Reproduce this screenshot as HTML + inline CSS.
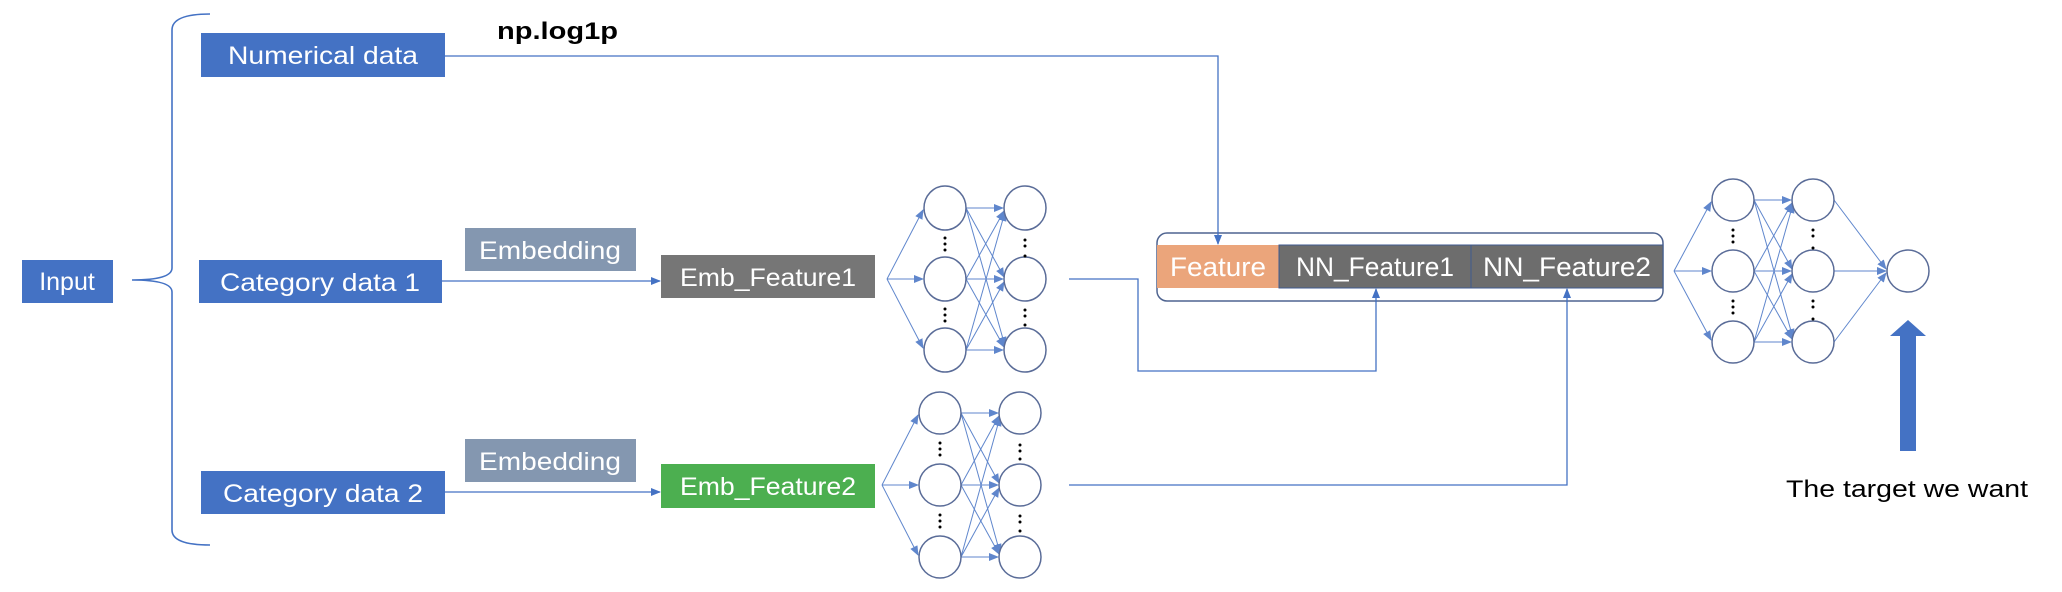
<!DOCTYPE html>
<html><head><meta charset="utf-8"><style>
html,body{margin:0;padding:0;background:#fff;}
svg{display:block;}
text{font-family:"Liberation Sans",sans-serif;}
</style></head><body>
<svg width="2062" height="592" viewBox="0 0 2062 592" xmlns="http://www.w3.org/2000/svg" style="position:absolute;left:0;top:0">
<defs>
<marker id="a" markerWidth="10" markerHeight="10" refX="9" refY="5" orient="auto" markerUnits="userSpaceOnUse"><path d="M0,1 L10,5 L0,9 Z" fill="#4472C4"/></marker>
</defs>
<g fill="none" stroke="#4472C4" stroke-width="1.3">
<path d="M210,14 Q172,14 172,30 L172,268 Q172,280 132,280 Q172,280 172,292 L172,530 Q172,545 210,545" stroke-width="1.6"/>
<path d="M445,56 L1218,56 L1218,243" marker-end="url(#a)"/>
<path d="M442,281 L660,281" marker-end="url(#a)"/>
<path d="M445,492 L660,492" marker-end="url(#a)"/>
<path d="M1069,279 L1138,279 L1138,371 L1376,371 L1376,300"/>
<path d="M1069,485 L1567,485 L1567,300"/>
</g>
<rect x="22" y="260" width="91" height="43" fill="#4472C4"/>
<text x="67" y="290" fill="#fff" font-size="25" text-anchor="middle">Input</text>
<rect x="201" y="33" width="244" height="44" fill="#4472C4"/>
<text x="323" y="64" fill="#fff" font-size="25" text-anchor="middle" textLength="190" lengthAdjust="spacingAndGlyphs">Numerical data</text>
<text x="497" y="39" fill="#000" font-size="24" font-weight="bold" textLength="121" lengthAdjust="spacingAndGlyphs">np.log1p</text>
<rect x="199" y="260" width="243" height="43" fill="#4472C4"/>
<text x="320" y="291" fill="#fff" font-size="25" text-anchor="middle" textLength="200" lengthAdjust="spacingAndGlyphs">Category data 1</text>
<rect x="201" y="471" width="244" height="43" fill="#4472C4"/>
<text x="323" y="502" fill="#fff" font-size="25" text-anchor="middle" textLength="200" lengthAdjust="spacingAndGlyphs">Category data 2</text>
<rect x="465" y="228" width="171" height="43" fill="#8497B0"/>
<text x="550" y="259" fill="#fff" font-size="25" text-anchor="middle" textLength="142" lengthAdjust="spacingAndGlyphs">Embedding</text>
<rect x="465" y="439" width="171" height="43" fill="#8497B0"/>
<text x="550" y="470" fill="#fff" font-size="25" text-anchor="middle" textLength="142" lengthAdjust="spacingAndGlyphs">Embedding</text>
<rect x="661" y="255" width="214" height="43" fill="#767676"/>
<text x="768" y="286" fill="#fff" font-size="25" text-anchor="middle" textLength="176" lengthAdjust="spacingAndGlyphs">Emb_Feature1</text>
<rect x="661" y="464" width="214" height="44" fill="#4CAF50"/>
<text x="768" y="495" fill="#fff" font-size="25" text-anchor="middle" textLength="176" lengthAdjust="spacingAndGlyphs">Emb_Feature2</text>
<rect x="1157" y="233" width="506" height="68" rx="10" fill="#fff" stroke="#4F6490" stroke-width="1.5"/>
<rect x="1157" y="245" width="122" height="43" fill="#EBA57B"/>
<rect x="1279" y="245" width="192" height="43" fill="#6D6D6D" stroke="#3F5A90" stroke-width="1"/>
<rect x="1471" y="245" width="192" height="43" fill="#6D6D6D" stroke="#3F5A90" stroke-width="1"/>
<text x="1218" y="276" fill="#fff" font-size="27" text-anchor="middle" textLength="96" lengthAdjust="spacingAndGlyphs">Feature</text>
<text x="1375" y="276" fill="#fff" font-size="27" text-anchor="middle" textLength="158" lengthAdjust="spacingAndGlyphs">NN_Feature1</text>
<text x="1567" y="276" fill="#fff" font-size="27" text-anchor="middle" textLength="168" lengthAdjust="spacingAndGlyphs">NN_Feature2</text>
<g fill="none" stroke="#4472C4" stroke-width="1.3">
<path d="M1218,232 L1218,244" marker-end="url(#a)"/>
<path d="M1376,302 L1376,289" marker-end="url(#a)"/>
<path d="M1567,302 L1567,289" marker-end="url(#a)"/>
</g>
<path d="M1900,451 L1900,336 L1890,336 L1908,320 L1926,336 L1916,336 L1916,451 Z" fill="#4472C4"/>
<text x="1786" y="497" fill="#000" font-size="24" textLength="242" lengthAdjust="spacingAndGlyphs">The target we want</text>
</svg>
<svg width="2062" height="592" xmlns="http://www.w3.org/2000/svg" style="position:absolute;left:0;top:0">
<defs><marker id="b" markerWidth="10" markerHeight="10" refX="9" refY="5" orient="auto" markerUnits="userSpaceOnUse"><path d="M0,1 L10,5 L0,9 Z" fill="#4472C4"/></marker></defs>
<g stroke="#4472C4" stroke-width="1" fill="none" opacity="0.85">
<path d="M887,279 L923,210" marker-end="url(#b)"/><path d="M887,279 L923,279" marker-end="url(#b)"/><path d="M887,279 L923,348" marker-end="url(#b)"/>
<path d="M966,208 L1003,208" marker-end="url(#b)"/><path d="M966,208 L1004,277" marker-end="url(#b)"/><path d="M966,208 L1005,346" marker-end="url(#b)"/>
<path d="M966,279 L1004,211" marker-end="url(#b)"/><path d="M966,279 L1003,279" marker-end="url(#b)"/><path d="M966,279 L1004,347" marker-end="url(#b)"/>
<path d="M966,350 L1005,212" marker-end="url(#b)"/><path d="M966,350 L1004,282" marker-end="url(#b)"/><path d="M966,350 L1003,350" marker-end="url(#b)"/>
<path d="M882,485 L918,415" marker-end="url(#b)"/><path d="M882,485 L918,485" marker-end="url(#b)"/><path d="M882,485 L918,555" marker-end="url(#b)"/>
<path d="M961,413 L998,413" marker-end="url(#b)"/><path d="M961,413 L999,483" marker-end="url(#b)"/><path d="M961,413 L1000,553" marker-end="url(#b)"/>
<path d="M961,485 L999,416" marker-end="url(#b)"/><path d="M961,485 L998,485" marker-end="url(#b)"/><path d="M961,485 L999,554" marker-end="url(#b)"/>
<path d="M961,557 L1000,417" marker-end="url(#b)"/><path d="M961,557 L999,488" marker-end="url(#b)"/><path d="M961,557 L998,557" marker-end="url(#b)"/>
<path d="M1674,271 L1711,202" marker-end="url(#b)"/><path d="M1674,271 L1711,271" marker-end="url(#b)"/><path d="M1674,271 L1711,340" marker-end="url(#b)"/>
<path d="M1754,200 L1791,200" marker-end="url(#b)"/><path d="M1754,200 L1792,269" marker-end="url(#b)"/><path d="M1754,200 L1793,338" marker-end="url(#b)"/>
<path d="M1754,271 L1792,203" marker-end="url(#b)"/><path d="M1754,271 L1791,271" marker-end="url(#b)"/><path d="M1754,271 L1792,339" marker-end="url(#b)"/>
<path d="M1754,342 L1793,204" marker-end="url(#b)"/><path d="M1754,342 L1792,274" marker-end="url(#b)"/><path d="M1754,342 L1791,342" marker-end="url(#b)"/>
<path d="M1834,200 L1886,269" marker-end="url(#b)"/><path d="M1834,271 L1886,271" marker-end="url(#b)"/><path d="M1834,342 L1886,273" marker-end="url(#b)"/>
</g>
<g fill="#fff" stroke="#5A6C98" stroke-width="1.5">
<ellipse cx="945" cy="208" rx="21" ry="22"/><ellipse cx="945" cy="279" rx="21" ry="22"/><ellipse cx="945" cy="350" rx="21" ry="22"/>
<ellipse cx="1025" cy="208" rx="21" ry="22"/><ellipse cx="1025" cy="279" rx="21" ry="22"/><ellipse cx="1025" cy="350" rx="21" ry="22"/>
<ellipse cx="940" cy="413" rx="21" ry="21"/><ellipse cx="940" cy="485" rx="21" ry="21"/><ellipse cx="940" cy="557" rx="21" ry="21"/>
<ellipse cx="1020" cy="413" rx="21" ry="21"/><ellipse cx="1020" cy="485" rx="21" ry="21"/><ellipse cx="1020" cy="557" rx="21" ry="21"/>
<ellipse cx="1733" cy="200" rx="21" ry="21"/><ellipse cx="1733" cy="271" rx="21" ry="21"/><ellipse cx="1733" cy="342" rx="21" ry="21"/>
<ellipse cx="1813" cy="200" rx="21" ry="21"/><ellipse cx="1813" cy="271" rx="21" ry="21"/><ellipse cx="1813" cy="342" rx="21" ry="21"/>
<ellipse cx="1908" cy="271" rx="21" ry="21"/>
</g>
<g fill="#000">
<circle cx="945" cy="238" r="1.5"/><circle cx="945" cy="244" r="1.5"/><circle cx="945" cy="250" r="1.5"/>
<circle cx="945" cy="309" r="1.5"/><circle cx="945" cy="315" r="1.5"/><circle cx="945" cy="321" r="1.5"/>
<circle cx="1025" cy="240" r="1.5"/><circle cx="1025" cy="246" r="1.5"/><circle cx="1025" cy="256" r="1.5"/>
<circle cx="1025" cy="310" r="1.5"/><circle cx="1025" cy="316" r="1.5"/><circle cx="1025" cy="325" r="1.5"/>
<circle cx="940" cy="443" r="1.5"/><circle cx="940" cy="449" r="1.5"/><circle cx="940" cy="455" r="1.5"/>
<circle cx="940" cy="515" r="1.5"/><circle cx="940" cy="521" r="1.5"/><circle cx="940" cy="527" r="1.5"/>
<circle cx="1020" cy="445" r="1.5"/><circle cx="1020" cy="451" r="1.5"/><circle cx="1020" cy="459" r="1.5"/>
<circle cx="1020" cy="516" r="1.5"/><circle cx="1020" cy="522" r="1.5"/><circle cx="1020" cy="531" r="1.5"/>
<circle cx="1733" cy="230" r="1.5"/><circle cx="1733" cy="236" r="1.5"/><circle cx="1733" cy="242" r="1.5"/>
<circle cx="1733" cy="301" r="1.5"/><circle cx="1733" cy="307" r="1.5"/><circle cx="1733" cy="313" r="1.5"/>
<circle cx="1813" cy="230" r="1.5"/><circle cx="1813" cy="236" r="1.5"/><circle cx="1813" cy="248" r="1.5"/>
<circle cx="1813" cy="301" r="1.5"/><circle cx="1813" cy="307" r="1.5"/><circle cx="1813" cy="319" r="1.5"/>
</g>
</svg>
</body></html>
